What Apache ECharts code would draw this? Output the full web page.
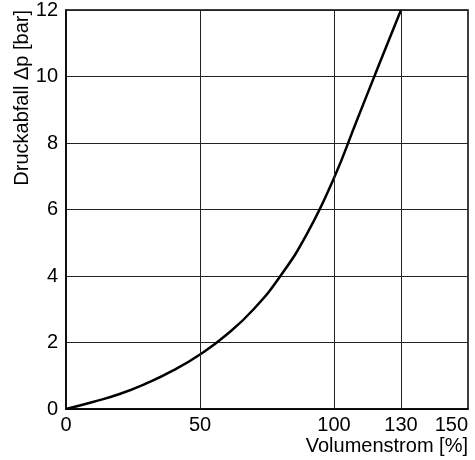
<!DOCTYPE html>
<html>
<head>
<meta charset="utf-8">
<script src="https://cdn.jsdelivr.net/npm/echarts@6/dist/echarts.min.js"></script>
<style>
  html, body { margin: 0; padding: 0; background: #fff; }
  #chart { width: 475px; height: 460px; }
</style>
</head>
<body>
<div id="chart"></div>
<script>
// Volumenstrom in %, Druckabfall in bar
var flow = [0, 10, 20, 30, 40, 50, 60, 70, 80, 90, 100, 110, 120, 130];
var dp = [0, 0.21, 0.45, 0.77, 1.16, 1.64, 2.24, 3.0, 4.0, 5.28, 6.95, 8.64, 10.33, 12.0];
var xTicks = [0, 50, 100, 130, 150];
var xGrid = [50, 100, 130];

// the x axis is not linear in the original: 0-50-100 are wide steps,
// 100-130 and 130-150 are half steps. map % onto that scale.
var xSteps = [0, 2, 4, 5, 6];
function xPos(v) {
  for (var i = 1; i < xTicks.length; i++) {
    if (v <= xTicks[i]) {
      var t = (v - xTicks[i - 1]) / (xTicks[i] - xTicks[i - 1]);
      return xSteps[i - 1] + t * (xSteps[i] - xSteps[i - 1]);
    }
  }
  return xSteps[xSteps.length - 1];
}

var font = "'Liberation Sans', Arial, sans-serif";
var chart = echarts.init(document.getElementById('chart'));

var option = {
  animation: false,
  grid: {
    left: 66, right: 7, top: 10, bottom: 51,
    show: true, borderColor: '#000', borderWidth: 1.5
  },
  xAxis: {
    type: 'value',
    min: 0, max: 6, interval: 1,
    name: 'Volumenstrom [%]',
    nameLocation: 'end',
    nameGap: 0,
    nameTextStyle: {
      color: '#000', fontSize: 20, fontFamily: font,
      align: 'right', verticalAlign: 'top', padding: [27, 0, 0, 0]
    },
    axisLine: { lineStyle: { color: '#000', width: 1.5 } },
    axisTick: { show: false },
    splitLine: { show: false },
    axisLabel: {
      customValues: xSteps,
      color: '#000', fontSize: 20, fontFamily: font, margin: 6,
      alignMaxLabel: 'right',
      formatter: function (v) {
        var i = xSteps.indexOf(v);
        return i >= 0 ? String(xTicks[i]) : '';
      }
    }
  },
  yAxis: {
    type: 'value',
    min: 0, max: 12, interval: 2,
    axisLine: { show: true, lineStyle: { color: '#000', width: 1.5 } },
    axisTick: { show: false },
    splitLine: { lineStyle: { color: '#222', width: 1 } },
    axisLabel: { color: '#000', fontSize: 20, fontFamily: font, margin: 8 }
  },
  graphic: [{
    type: 'text',
    x: 22, y: 10,
    rotation: Math.PI / 2,
    style: {
      text: 'Druckabfall \u0394p [bar]',
      fill: '#000', fontSize: 20, fontFamily: font,
      align: 'right', verticalAlign: 'middle'
    }
  }],
  series: [{
    type: 'line',
    data: flow.map(function (f, i) { return [xPos(f), dp[i]]; }),
    smooth: true,
    showSymbol: false,
    lineStyle: { color: '#000', width: 2.5 },
    markLine: {
      silent: true,
      symbol: 'none',
      label: { show: false },
      lineStyle: { color: '#222', width: 1, type: 'solid' },
      data: xGrid.map(function (g) { return { xAxis: xPos(g) }; })
    }
  }]
};

chart.setOption(option);
</script>
</body>
</html>
